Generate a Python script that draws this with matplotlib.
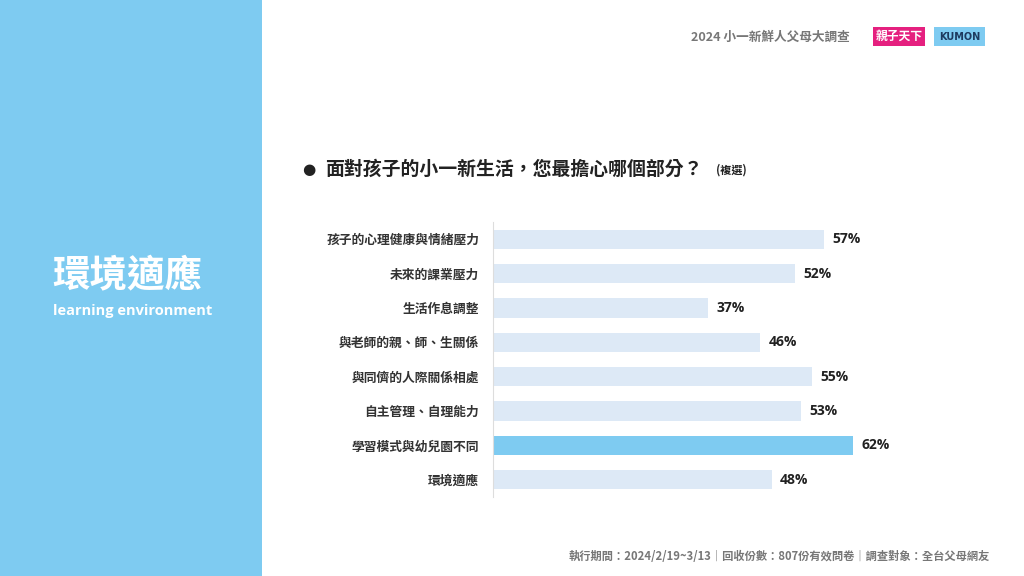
import matplotlib.pyplot as plt
from matplotlib.patches import Rectangle

plt.rcParams['font.family'] = ['Noto Sans CJK TC', 'DejaVu Sans']

# survey data
categories = ["孩子的心理健康與情緒壓力", "未來的課業壓力", "生活作息調整",
              "與老師的親、師、生關係", "與同儕的人際關係相處", "自主管理、自理能力",
              "學習模式與幼兒園不同", "環境適應"]
values = [57, 52, 37, 46, 55, 53, 62, 48]
highlight = "學習模式與幼兒園不同"

title = "面對孩子的小一新生活，您最擔心哪個部分？"
header = "2024 小一新鮮人父母大調查"
footer = "執行期間：2024/2/19~3/13｜回收份數：807份有效問卷｜調查對象：全台父母網友"

W, H = 1024, 576
fig = plt.figure(figsize=(W / 100, H / 100), dpi=100)
fig.patch.set_facecolor("white")

def fx(px):
    return px / W

def fy(py):
    return 1 - py / H

# left blue panel
fig.patches.append(Rectangle((0, 0), fx(262), 1, transform=fig.transFigure,
                             facecolor="#7ecbf1", edgecolor="none", zorder=0))
fig.text(fx(52), fy(276), "環境適應", color="white", fontsize=27, weight="bold",
         va="center", ha="left")
fig.text(fx(53), fy(311), "learning environment", color="white", fontsize=10.5,
         weight="bold", va="center", ha="left", family=["Open Sans", "DejaVu Sans"])

# header + logos
fig.text(fx(850), fy(37), header, color="#777777", fontsize=9.1, weight="bold",
         ha="right", va="center")
fig.patches.append(Rectangle((fx(873), fy(46)), fx(52), 19 / H, transform=fig.transFigure,
                             facecolor="#e5207f", edgecolor="none"))
fig.text(fx(899), fy(36.5), "親子天下", color="white", fontsize=8.5, weight="bold",
         ha="center", va="center")
fig.patches.append(Rectangle((fx(934), fy(46)), fx(51), 19 / H, transform=fig.transFigure,
                             facecolor="#7ecbf1", edgecolor="none"))
fig.text(fx(959.5), fy(36.5), "KUMON", color="#1e3a5f", fontsize=7, weight="bold",
         ha="center", va="center", family=["DejaVu Sans"])

# question title
fig.text(fx(302), fy(169), "●", color="#222222", fontsize=11, ha="left", va="center",
         family=["DejaVu Sans"])
fig.text(fx(325), fy(169), title, color="#222222", fontsize=13.6, weight="bold",
         ha="left", va="center")
fig.text(fx(716), fy(170), "(複選)", color="#222222", fontsize=8, weight="bold",
         ha="left", va="center")

# footer
fig.text(fx(990), fy(557), footer, color="#777777", fontsize=8.1, weight="bold",
         ha="right", va="center")

# bar chart
ax = fig.add_axes([fx(493), fy(497), fx(1010 - 493), (497 - 222) / H])
colors = ["#7ecbf1" if c == highlight else "#dde9f6" for c in categories]
ypos = range(len(categories))
ax.barh(ypos, values, height=0.56, color=colors, zorder=2)
ax.set_xlim(0, 89)
ax.set_ylim(len(categories) - 0.5, -0.5)
ax.set_yticks(list(ypos))
ax.set_yticklabels(categories, fontsize=9.2, weight="bold", color="#333333")
ax.tick_params(axis="y", length=0, pad=10)
ax.set_xticks([])
for s in ["top", "right", "bottom"]:
    ax.spines[s].set_visible(False)
ax.spines["left"].set_color("#dddddd")
ax.spines["left"].set_linewidth(0.8)
ax.set_facecolor("none")
for i, v in enumerate(values):
    ax.annotate(f"{v}%", (v, i), xytext=(6, 0), textcoords="offset points",
                va="center", ha="left", fontsize=10, weight="bold", color="#222222",
                family=["Open Sans", "DejaVu Sans"])

fig.savefig("out.png", dpi=100)
